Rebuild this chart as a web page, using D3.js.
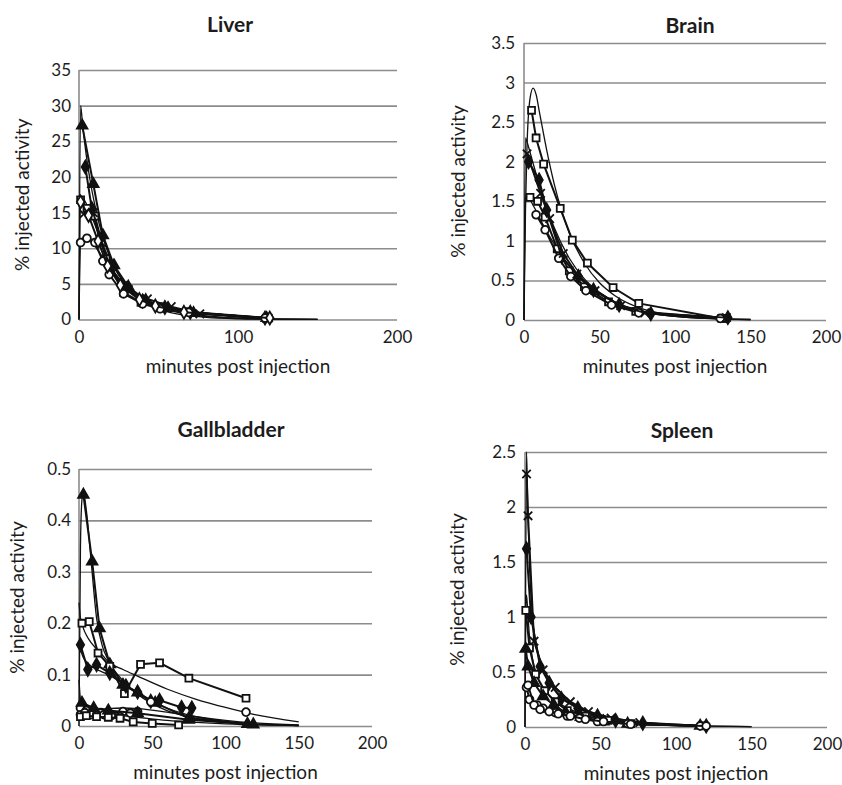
<!DOCTYPE html>
<html>
<head>
<meta charset="utf-8">
<script src="https://cdn.jsdelivr.net/npm/d3@7"></script>
<style>
  body { margin: 0; background: #fff; }
  svg text { font-family: Lato, "Open Sans", sans-serif; fill: #1c1c1c; }
</style>
</head>
<body>
<svg id="chart" width="842" height="785"></svg>
<script>
// ---- Liver ----
const liverTri  = [[2,27.2],[9,19],[15,11.8],[22,7.6],[31,4.6],[42,2.7],[56,1.6],[72,0.9],[118,0.2]];
const liverDia  = [[4,21.4],[8,15.6],[13,11.2],[20,7.2],[30,4.3],[40,2.6],[54,1.7],[70,1.0],[117,0.2]];
const liverSq   = [[1,16.8],[5,15.6],[10,14.5],[17,8.5],[28,3.8],[39,2.4],[50,1.8],[68,1.1],[119,0.2]];
const liverX    = [[3,14.8],[9,15],[14,10.8],[21,6.5],[31,4.2],[43,2.9],[58,1.8],[76,0.8],[118,0.15]];
const liverCirc = [[1,10.8],[5,11.4],[10,10.8],[15,8.2],[19,6.3],[28,3.6],[40,2.2],[51,1.5],[69,1.0],[117,0.2]];
const liverDia2 = [[1,16.5],[6,14.6],[12,11],[18,7.5],[26,4.8],[38,2.8],[48,1.9],[66,1.0],[120,0.2]];
const liverFitT = [0,1,2,4,7,10,15,20,30,40,50,60,80,100,120,150];
const liverFitA = [0,30,28,24,19.5,16,11.5,8.4,4.6,2.6,1.5,0.85,0.3,0.1,0.04,0.01];
const liverFitB = [0,17,17.2,16.5,15,13.3,10.5,8.1,4.8,2.9,1.8,1.1,0.42,0.16,0.06,0.02];
const liverFitC = [0,11,11.4,11.4,11,10.3,8.7,7.1,4.6,3,1.9,1.25,0.52,0.21,0.09,0.03];

// ---- Brain ----
const brainSq   = [[5,2.65],[8,2.3],[13,1.97],[24,1.41],[32,1.01],[42,0.72],[59,0.41],[76,0.21],[131,0.02]];
const brainSq2  = [[4,1.55],[9,1.5],[14,1.3],[22,0.9],[30,0.62],[40,0.42],[56,0.23],[74,0.11],[133,0.02]];
const brainDia  = [[3,2.0],[10,1.77],[15,1.39],[25,0.8],[36,0.55],[46,0.38],[63,0.19],[84,0.08],[135,0.03]];
const brainCirc = [[8,1.33],[14,1.14],[23,0.78],[31,0.55],[41,0.37],[58,0.19],[76,0.09],[130,0.02]];
const brainX    = [[2,2.1],[11,1.6],[17,1.28],[26,0.84],[35,0.58],[47,0.37],[64,0.18],[80,0.09],[134,0.03]];
const brainFitT = [0,1,2,4,6,8,10,15,20,30,40,50,60,80,100,120,150];
const brainFitA = [0,1.4,2.2,2.8,2.93,2.85,2.65,2.15,1.72,1.1,0.72,0.47,0.31,0.13,0.055,0.023,0.006];
const brainFitB = [0,2.3,2.25,2.12,1.98,1.85,1.72,1.42,1.17,0.78,0.52,0.35,0.23,0.1,0.045,0.02,0.006];
const brainFitC = [0,1.55,1.56,1.52,1.45,1.38,1.3,1.12,0.96,0.68,0.47,0.33,0.22,0.1,0.045,0.02,0.006];

// ---- Gallbladder ----
const gbTri  = [[3,0.45],[9,0.32],[14,0.19],[21,0.12],[30,0.08],[40,0.065],[52,0.045],[75,0.015],[119,0.003]];
const gbBow  = [[2,0.2],[7,0.203],[13,0.142],[21,0.116],[31,0.063],[42,0.12],[55,0.123],[75,0.093],[114,0.054]];
const gbDia  = [[1,0.158],[6,0.11],[12,0.119],[21,0.103],[32,0.078],[40,0.066],[49,0.048],[55,0.05],[70,0.036],[77,0.035]];
const gbCirc = [[1,0.035],[5,0.03],[10,0.03],[15,0.026],[20,0.023],[30,0.028],[35,0.025],[40,0.028]];
const gbRing = [[49,0.047],[114,0.027]];
const gbLow  = [[1,0.022],[4,0.026],[8,0.022],[12,0.02],[17,0.022],[22,0.02],[28,0.018]];
const gbSq   = [[1,0.018],[5,0.02],[12,0.018],[20,0.017],[28,0.015],[37,0.008],[50,0.005],[68,0.002]];
const gbTri2 = [[2,0.045],[10,0.035],[20,0.03],[40,0.025],[75,0.012],[115,0.004]];
const gbFitT = [0,1,2,3,5,8,12,16,20,30,40,60,80,100,120,150];
const gbFitA = [0,0.35,0.44,0.455,0.42,0.33,0.21,0.155,0.128,0.088,0.062,0.03,0.015,0.007,0.003,0.001];
const gbFitB = [0.24,0.21,0.2,0.19,0.177,0.163,0.15,0.138,0.125,0.11,0.097,0.072,0.052,0.036,0.022,0.008];
const gbFitC = [0.02,0.022,0.024,0.025,0.027,0.029,0.031,0.033,0.034,0.035,0.034,0.027,0.018,0.011,0.006,0.002];
const gbFitD = [0.09,0.05,0.038,0.032,0.029,0.027,0.025,0.024,0.023,0.02,0.017,0.011,0.007,0.004,0.002,0.001];
const gbFitE = [0.16,0.15,0.14,0.133,0.125,0.117,0.11,0.105,0.1,0.082,0.063,0.035,0.018,0.009,0.004,0.001];

// ---- Spleen ----
const spX     = [[1,2.3],[2,1.92],[6,0.78],[12,0.52],[20,0.36],[30,0.23],[42,0.14],[57,0.08],[76,0.04],[118,0.01]];
const spDia   = [[1,1.62],[4,1.0],[10,0.55],[16,0.4],[24,0.26],[35,0.17],[48,0.1],[60,0.06],[78,0.035],[120,0.01]];
const spSq    = [[0.5,1.06],[3,0.72],[7,0.48],[13,0.33],[20,0.23],[28,0.15],[40,0.1],[55,0.06],[70,0.03],[118,0.01]];
const spTri   = [[0.5,0.71],[2,0.55],[6,0.4],[12,0.28],[19,0.2],[27,0.13],[37,0.09],[52,0.05],[68,0.03],[116,0.01]];
const spCirc  = [[1,0.36],[3,0.25],[8,0.2],[12,0.17],[20,0.13],[28,0.1],[36,0.08],[48,0.05],[68,0.03],[116,0.01]];
const spCirc2 = [[2,0.38],[6,0.2],[10,0.16],[16,0.14],[22,0.12],[30,0.1],[40,0.07],[52,0.05],[70,0.025],[120,0.01]];
const spFitT  = [0,0.5,1,2,3,5,8,12,20,30,45,60,80,100,120,150];
const spFitA  = [0,1.5,2.5,1.9,1.45,1.0,0.72,0.52,0.34,0.22,0.13,0.08,0.04,0.02,0.01,0.004];
const spFitB  = [0,1.1,1.2,1.0,0.82,0.62,0.46,0.35,0.24,0.16,0.1,0.06,0.03,0.015,0.008,0.003];

// ---- ticks ----
const liverYTicks = [0,5,10,15,20,25,30,35];
const brainYTicks = [0,0.5,1,1.5,2,2.5,3,3.5];
const gbYTicks    = [0,0.1,0.2,0.3,0.4,0.5];
const spYTicks    = [0,0.5,1,1.5,2,2.5];
const liverXTicks = [0,100,200];
const xTicks      = [0,50,100,150,200];

const svg = d3.select("#chart");
const GRID = "#8c8c8c";

function drawPanel(p) {
  const x = d3.scaleLinear().domain([0, 200]).range([p.x0, p.x1]);
  const y = d3.scaleLinear().domain([0, p.yMax]).range([p.y0, p.yTop]);
  const g = svg.append("g");

  // gridlines + y labels
  const ya = g.append("g")
    .attr("transform", "translate(" + p.x0 + ",0)")
    .call(d3.axisLeft(y).tickValues(p.yTicks).tickSize(-(p.x1 - p.x0)).tickPadding(p.ypad)
      .tickFormat(d => String(d)));
  ya.select(".domain").remove();
  ya.selectAll("line").attr("stroke", GRID).attr("stroke-width", 1.6);
  ya.selectAll("text").style("font-size", "17px");

  // x labels
  const xa = g.append("g")
    .attr("transform", "translate(0," + p.y0 + ")")
    .call(d3.axisBottom(x).tickValues(p.xTicks).tickSize(0).tickPadding(11));
  xa.select(".domain").remove();
  xa.selectAll("text").style("font-size", "17px");

  // left axis line
  g.append("line")
    .attr("x1", p.x0).attr("x2", p.x0).attr("y1", p.y0).attr("y2", p.yTop)
    .attr("stroke", GRID).attr("stroke-width", 1.6);

  // fitted curves
  const fitLine = d3.line().x(d => x(d[0])).y(d => y(d[1])).curve(d3.curveMonotoneX);
  p.fits.forEach(f => {
    const pts = p.fitT.map((t, i) => [t, f[i]]);
    g.append("path").attr("d", fitLine(pts))
      .attr("fill", "none").attr("stroke", "#111").attr("stroke-width", 1.3);
  });

  // measured series
  const line = d3.line().x(d => x(d[0])).y(d => y(d[1]));
  p.series.forEach(s => {
    if (s.line !== false) {
      g.append("path").attr("d", line(s.pts))
        .attr("fill", "none").attr("stroke", "#111").attr("stroke-width", 2);
    }
    const sym = d3.symbol().type(s.sym).size(s.size || 48);
    g.selectAll(null).data(s.pts).enter().append("path")
      .attr("transform", d => "translate(" + x(d[0]) + "," + y(d[1]) + ")")
      .attr("d", sym)
      .attr("fill", s.sym === d3.symbolTimes ? "none" : (s.fill || "#fff"))
      .attr("stroke", "#111").attr("stroke-width", 1.8);
  });

  // title
  g.append("text").attr("x", p.tx).attr("y", p.ty)
    .attr("text-anchor", "middle").style("font-size", "21px").style("font-weight", "bold")
    .text(p.title);

  // axis titles
  g.append("text").attr("x", (p.x0 + p.x1) / 2).attr("y", p.y0 + 53)
    .attr("text-anchor", "middle").style("font-size", "19px")
    .text("minutes post injection");
  g.append("text")
    .attr("transform", "translate(" + p.lx + "," + (p.y0 + p.yTop) / 2 + ") rotate(-90)")
    .attr("text-anchor", "middle").attr("dy", "0.35em").style("font-size", "19px")
    .text("% injected activity");
}

drawPanel({
  title: "Liver", tx: 230, ty: 32, lx: 22,
  x0: 79, x1: 397, yTop: 70, y0: 319.5, yMax: 35, ypad: 8,
  yTicks: liverYTicks, xTicks: liverXTicks,
  fitT: liverFitT, fits: [liverFitA, liverFitB, liverFitC],
  series: [
    { pts: liverTri, sym: d3.symbolTriangle, fill: "#111" },
    { pts: liverDia, sym: d3.symbolDiamond, fill: "#111" },
    { pts: liverSq, sym: d3.symbolSquare },
    { pts: liverX, sym: d3.symbolTimes },
    { pts: liverCirc, sym: d3.symbolCircle },
    { pts: liverDia2, sym: d3.symbolDiamond }
  ]
});

drawPanel({
  title: "Brain", tx: 690, ty: 33, lx: 458,
  x0: 524, x1: 826, yTop: 43, y0: 320, yMax: 3.5, ypad: 9,
  yTicks: brainYTicks, xTicks: xTicks,
  fitT: brainFitT, fits: [brainFitA, brainFitB, brainFitC],
  series: [
    { pts: brainSq, sym: d3.symbolSquare },
    { pts: brainSq2, sym: d3.symbolSquare },
    { pts: brainDia, sym: d3.symbolDiamond, fill: "#111" },
    { pts: brainCirc, sym: d3.symbolCircle },
    { pts: brainX, sym: d3.symbolTimes }
  ]
});

drawPanel({
  title: "Gallbladder", tx: 231, ty: 437, lx: 17,
  x0: 79, x1: 372, yTop: 469, y0: 726, yMax: 0.5, ypad: 8,
  yTicks: gbYTicks, xTicks: xTicks,
  fitT: gbFitT, fits: [gbFitA, gbFitB, gbFitC, gbFitD, gbFitE],
  series: [
    { pts: gbTri, sym: d3.symbolTriangle, fill: "#111" },
    { pts: gbBow, sym: d3.symbolSquare },
    { pts: gbDia, sym: d3.symbolDiamond, fill: "#111" },
    { pts: gbCirc, sym: d3.symbolCircle },
    { pts: gbRing, sym: d3.symbolCircle, line: false },
    { pts: gbLow, sym: d3.symbolCircle },
    { pts: gbSq, sym: d3.symbolSquare },
    { pts: gbTri2, sym: d3.symbolTriangle, fill: "#111" }
  ]
});

drawPanel({
  title: "Spleen", tx: 682, ty: 438, lx: 457,
  x0: 525, x1: 827, yTop: 452, y0: 727, yMax: 2.5, ypad: 9,
  yTicks: spYTicks, xTicks: xTicks,
  fitT: spFitT, fits: [spFitA, spFitB],
  series: [
    { pts: spX, sym: d3.symbolTimes },
    { pts: spDia, sym: d3.symbolDiamond, fill: "#111" },
    { pts: spSq, sym: d3.symbolSquare },
    { pts: spTri, sym: d3.symbolTriangle, fill: "#111" },
    { pts: spCirc, sym: d3.symbolCircle },
    { pts: spCirc2, sym: d3.symbolCircle }
  ]
});
</script>
</body>
</html>
